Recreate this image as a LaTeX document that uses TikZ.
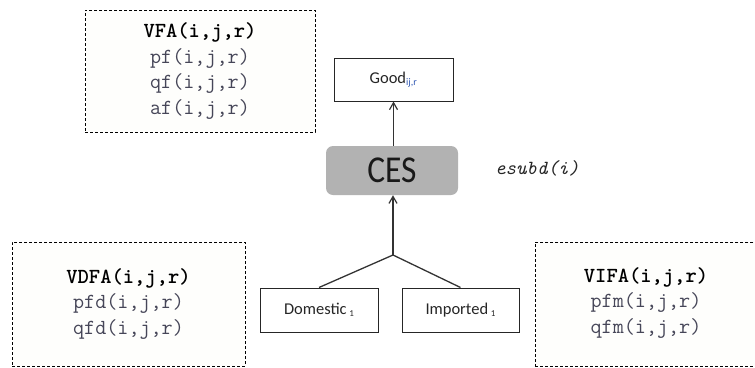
\documentclass[tikz,border=0pt]{standalone}
\usepackage{fontspec}
\setmainfont{Latin Modern Roman}
\newfontfamily\boxsans{Carlito}
\usetikzlibrary{arrows.meta}
\definecolor{paper}{RGB}{254,254,252}
\definecolor{vartext}{RGB}{70,70,88}
\definecolor{cesgray}{RGB}{178,178,178}
\definecolor{subblue}{RGB}{50,90,180}
\begin{document}
\begin{tikzpicture}[x=1pt,y=-1pt,
  dbox/.style={draw=black, line width=0.9pt, dash pattern=on 3pt off 2pt, fill=paper, inner sep=0pt, align=center,
     font=\fontsize{21.5}{25.5}\selectfont\ttfamily, text=vartext},
  sbox/.style={draw=black!85, line width=1pt, fill=white, inner sep=0pt,
     font=\fontsize{16.5}{18}\selectfont\boxsans, text=black!85},
  conn/.style={draw=black!80, line width=1.3pt},
  arr/.style={conn, -{Straight Barb[length=7pt,width=8pt,line width=1.2pt]}}]
\useasboundingbox (0,0) rectangle (755,367);
\begin{scope}
\clip (0,0) rectangle (755,367);
\node[dbox, minimum width=230, minimum height=122] (vfa) at (200,71)
  {\textcolor{black}{\textbf{VFA(i,j,r)}}\\pf(i,j,r)\\qf(i,j,r)\\af(i,j,r)};
\node[dbox, minimum width=233, minimum height=124] (vdfa) at (128.5,304)
  {\textcolor{black}{\textbf{VDFA(i,j,r)}}\\pfd(i,j,r)\\qfd(i,j,r)};
\node[dbox, minimum width=232, minimum height=124, anchor=west] (vifa) at (535,304) {};
\node[align=center, font=\fontsize{21.5}{25.5}\selectfont\ttfamily, text=vartext] (vifatext) at (646,303)
  {\textcolor{black}{\textbf{VIFA(i,j,r)}}\\pfm(i,j,r)\\qfm(i,j,r)};
\end{scope}
\node[sbox, minimum width=119, minimum height=43] (good) at (393.5,79.5)
  {Good\textsubscript{\textcolor{subblue}{\fontsize{10}{10}\selectfont ij,r}}};
\node[fill=cesgray, rounded corners=7pt, minimum width=132, minimum height=49, inner sep=0pt] (ces) at (392,170.5)
  {\scalebox{0.88}[1]{\fontsize{38}{38}\selectfont\boxsans\color{black!90} CES}};
\node[font=\fontsize{20}{22}\selectfont\ttfamily\itshape, text=black!85] (esubd) at (537,168) {esubd(i)};
\node[sbox, minimum width=118, minimum height=44] (dom) at (319,310)
  {Domestic\,\raisebox{-2pt}{\fontsize{9}{9}\selectfont 1}};
\node[sbox, minimum width=117, minimum height=44] (imp) at (460.5,310)
  {Imported\,\raisebox{-2pt}{\fontsize{9}{9}\selectfont 1}};
\coordinate (junc) at (393,255);
\draw[arr] (ces.north -| good.south) -- (good.south);
\draw[arr] (junc) -- (junc |- ces.south);
\draw[conn] (dom.north) -- (junc) -- (imp.north);
\end{tikzpicture}
\end{document}
